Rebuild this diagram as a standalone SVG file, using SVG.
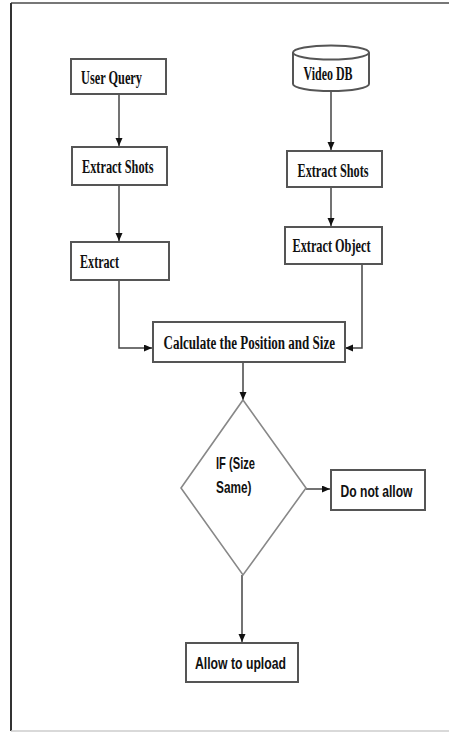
<svg xmlns="http://www.w3.org/2000/svg" width="449" height="732" viewBox="0 0 449 732">
<style>
.box{fill:#fff;stroke:#555;stroke-width:2}
.dia{fill:#fff;stroke:#888;stroke-width:1.6}
.ln{fill:none;stroke:#444;stroke-width:1.5}
.st{font-family:"Liberation Serif","Times New Roman",serif;font-weight:bold;font-size:18px;fill:#111}
.ss{font-family:"Liberation Sans",Arial,sans-serif;font-weight:bold;font-size:17px;fill:#111}
</style>
<defs>
<marker id="ah" markerUnits="userSpaceOnUse" markerWidth="9" markerHeight="8" refX="8" refY="3.5" orient="auto">
<path d="M0,0 L8,3.5 L0,7 z" fill="#111"/>
</marker>
</defs>
<rect x="0" y="0" width="449" height="732" fill="#fff"/>
<g id="frame">
<line x1="11" y1="3" x2="449" y2="3" stroke="#777" stroke-width="2"/>
<line x1="11" y1="3" x2="11" y2="731" stroke="#333" stroke-width="2"/>
<line x1="11" y1="731" x2="449" y2="731" stroke="#ccc" stroke-width="1.5"/>
</g>
<g id="connectors">
<line class="ln" x1="119" y1="94" x2="119" y2="146" marker-end="url(#ah)"/>
<line class="ln" x1="119" y1="185" x2="119" y2="241" marker-end="url(#ah)"/>
<polyline class="ln" points="119,280 119,348 152,348" marker-end="url(#ah)"/>
<line class="ln" x1="331" y1="91" x2="331" y2="150" marker-end="url(#ah)"/>
<line class="ln" x1="331" y1="187" x2="331" y2="226" marker-end="url(#ah)"/>
<polyline class="ln" points="362,264 362,348 345,348" marker-end="url(#ah)"/>
<line class="ln" x1="243" y1="362" x2="243" y2="400" marker-end="url(#ah)"/>
<line class="ln" x1="306" y1="489" x2="330" y2="489" marker-end="url(#ah)" stroke="#777" stroke-width="2"/>
<line class="ln" x1="242" y1="575" x2="242" y2="642" marker-end="url(#ah)"/>
</g>
<g id="user-query">
<rect class="box" x="71" y="59" width="95" height="35"/>
<text class="st" x="81" y="84" textLength="61" lengthAdjust="spacingAndGlyphs">User Query</text>
</g>
<g id="extract-shots-left">
<rect class="box" x="72" y="147" width="95" height="38"/>
<text class="st" x="82" y="172.5" textLength="71.5" lengthAdjust="spacingAndGlyphs">Extract Shots</text>
</g>
<g id="extract">
<rect class="box" x="71" y="242" width="98" height="38"/>
<text class="st" x="80" y="268" textLength="39" lengthAdjust="spacingAndGlyphs">Extract</text>
</g>
<g id="video-db">
<path class="box" d="M293,52.5 L293,84 A38,7 0 0 0 369,84 L369,52.5"/>
<ellipse class="box" cx="331" cy="52.5" rx="38" ry="7"/>
<text class="st" x="303.5" y="80" textLength="49" lengthAdjust="spacingAndGlyphs">Video DB</text>
</g>
<g id="extract-shots-right">
<rect class="box" x="287" y="151" width="95" height="36"/>
<text class="st" x="297.5" y="176.5" textLength="71" lengthAdjust="spacingAndGlyphs">Extract Shots</text>
</g>
<g id="extract-object">
<rect class="box" x="285" y="227" width="97" height="37"/>
<text class="st" x="292.5" y="252" textLength="78" lengthAdjust="spacingAndGlyphs">Extract Object</text>
</g>
<g id="calculate">
<rect class="box" x="153" y="322" width="192" height="40"/>
<text class="st" x="163.5" y="348.5" textLength="171.5" lengthAdjust="spacingAndGlyphs">Calculate the Position and Size</text>
</g>
<g id="decision">
<polygon class="dia" points="243,400 306,488 243,575 181,488"/>
<text class="ss" x="216" y="469" textLength="39" lengthAdjust="spacingAndGlyphs">IF (Size</text>
<text class="ss" x="216" y="493" textLength="35.5" lengthAdjust="spacingAndGlyphs">Same)</text>
</g>
<g id="do-not-allow">
<rect class="box" x="331" y="470" width="94" height="40"/>
<text class="ss" x="340.5" y="496.5" textLength="72" lengthAdjust="spacingAndGlyphs">Do not allow</text>
</g>
<g id="allow-upload">
<rect class="box" x="186" y="643" width="112" height="39"/>
<text class="ss" x="195" y="669" textLength="91" lengthAdjust="spacingAndGlyphs">Allow to upload</text>
</g>
</svg>
